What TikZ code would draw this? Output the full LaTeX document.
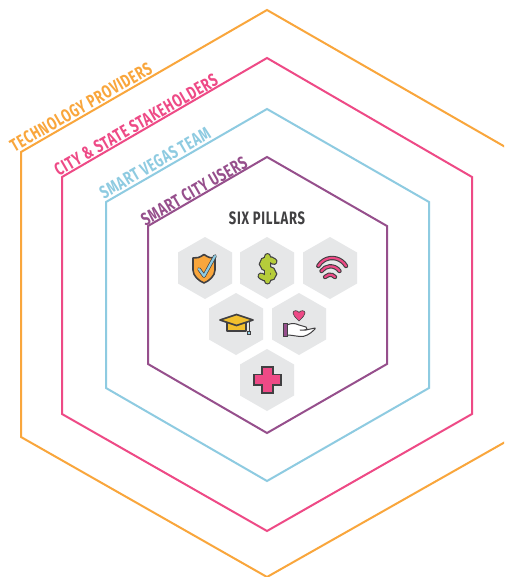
\documentclass[tikz,border=0pt]{standalone}
\usepackage{fontspec}
\newfontfamily\labelfont[FakeStretch=0.72,LetterSpace=4]{Fira Sans Bold}
\definecolor{orangeC}{HTML}{F9A63C}
\definecolor{pinkC}{HTML}{EE4A86}
\definecolor{blueC}{HTML}{8ECBE1}
\definecolor{purpleC}{HTML}{964F8C}
\definecolor{darkC}{HTML}{414042}
\definecolor{tileC}{HTML}{E6E7E8}
\definecolor{limeC}{HTML}{B5CC3A}
\definecolor{goldC}{HTML}{F2C02E}
\tikzset{
  ring/.style={line width=2pt,line join=miter},
  ringlabel/.style={font=\labelfont\fontsize{18}{20}\selectfont,rotate=30,inner sep=0pt},
  tile/.style={fill=tileC,draw=none},
  ico/.style={draw=darkC,line width=1.6pt,line join=round,line cap=round},
}
\newcommand{\tilehex}[2]{\fill[tile] (#1,#2-31) -- (#1+27,#2-15.5) -- (#1+27,#2+15.5) -- (#1,#2+31) -- (#1-27,#2+15.5) -- (#1-27,#2-15.5) -- cycle;}
\newcommand{\dollarpath}{(274,261.5) .. controls (271,258.5) and (262.5,258.5) .. (262.5,264) .. controls (262.5,270) and (273.5,267.5) .. (273.5,274) .. controls (273.5,279) and (264,279) .. (261,276) (267.5,256.5) -- (267.5,281)}
\newcommand{\wifiarc}[4]{%
  \draw[darkC,line width=4.4pt,line cap=round] (#1,#2) arc[start angle=-#3,end angle=-180+#3,radius=#4];
  \draw[pinkC,line width=2.2pt,line cap=round] (#1,#2) arc[start angle=-#3,end angle=-180+#3,radius=#4];}
\begin{document}
\begin{tikzpicture}[x=1pt,y=-1pt]
\useasboundingbox (0,0) rectangle (504,577);
\clip (0,0) rectangle (504,577);
\fill[white] (0,0) rectangle (504,577);
% rings
\draw[ring,orangeC] (267,10) -- (514,152) -- (514,437) -- (267,577) -- (21,437) -- (21,152) -- cycle;
\draw[ring,pinkC] (267,58) -- (472,177) -- (472,414) -- (267,531) -- (62,414) -- (62,177) -- cycle;
\draw[ring,blueC] (267,109) -- (429,202) -- (429,388) -- (267,481) -- (106,388) -- (106,202) -- cycle;
\draw[ring,purpleC] (267,157) -- (387,226) -- (387,364) -- (267,433) -- (148,364) -- (148,226) -- cycle;
% labels
\node[ringlabel,text=orangeC] (tech) at (81,107) {TECHNOLOGY PROVIDERS};
\node[ringlabel,text=pinkC] (city) at (136,125) {CITY \& STATE STAKEHOLDERS};
\node[ringlabel,text=blueC] (vegas) at (155,163) {SMART VEGAS TEAM};
\node[ringlabel,text=purpleC] (users) at (194,191) {SMART CITY USERS};
\node[font=\labelfont\fontsize{18}{20}\selectfont,text=darkC,inner sep=0pt] (pillars) at (267,218) {SIX PILLARS};
% tiles
\tilehex{205}{268}\tilehex{267}{268}\tilehex{330}{268}
\tilehex{236}{324}\tilehex{299}{324}\tilehex{267}{380}
% shield
\draw[ico,fill=orangeC] (204,254.5) .. controls (199,258) and (197,258) .. (193,258) -- (193,270) .. controls (193,276) and (199,281) .. (204,283) .. controls (209,281) and (215,276) .. (215,270) -- (215,258) .. controls (211,258) and (209,258) .. (204,254.5) -- cycle;
\draw[darkC,line width=3.6pt,line cap=round,line join=round] (199,269) -- (204,276) -- (215,256);
\draw[blueC,line width=2.2pt,line cap=round,line join=round] (199,269) -- (204,276) -- (215,256);
% dollar
\draw[darkC,line width=7pt,line cap=round] \dollarpath;
\draw[limeC,line width=4.6pt,line cap=round] \dollarpath;
% wifi
\wifiarc{346}{266}{30}{16}
\wifiarc{339.5}{271}{35}{11}
\wifiarc{335}{277}{40}{6.5}
% cap
\draw[ico,fill=goldC] (227,319) -- (227,331) -- (246,331) -- (246,319) -- cycle;
\draw[ico,fill=goldC] (220,320) -- (236.5,314.5) -- (253,320) -- (236.5,325.5) -- cycle;
\draw[darkC,line width=1pt] (249,321) -- (249,331);
\draw[darkC,fill=blueC,line width=.7pt] (247.5,331) rectangle (250.5,334);
% hand
\fill[pinkC,draw=darkC,line width=.6pt] (299,321) .. controls (295,317) and (293,315) .. (293,313) .. controls (293,310) and (297.5,310) .. (299,312.5) .. controls (300.5,310) and (305,310) .. (305,313) .. controls (305,315) and (303,317) .. (299,321) -- cycle;
\draw[darkC,line width=1pt,fill=white,line join=round] (287,325) .. controls (291,323) and (295,323) .. (299,325) -- (306,327) .. controls (308,328) and (307,330) .. (304,330) -- (300,330) -- (306,330) -- (315,328) .. controls (316,328) and (315,329) .. (314,330) .. controls (310,334) and (305,337) .. (300,336.5) .. controls (295,336) and (291,335) .. (287,335) -- cycle;
\draw[darkC,fill=purpleC,line width=1pt] (283.5,323) rectangle (287.5,336);
% plus
\draw[darkC,fill=pinkC,line width=1.5pt,line join=miter] (262,367) -- (273,367) -- (273,374.5) -- (281,374.5) -- (281,385) -- (273,385) -- (273,393) -- (262,393) -- (262,385) -- (254,385) -- (254,374.5) -- (262,374.5) -- cycle;
\end{tikzpicture}
\end{document}
